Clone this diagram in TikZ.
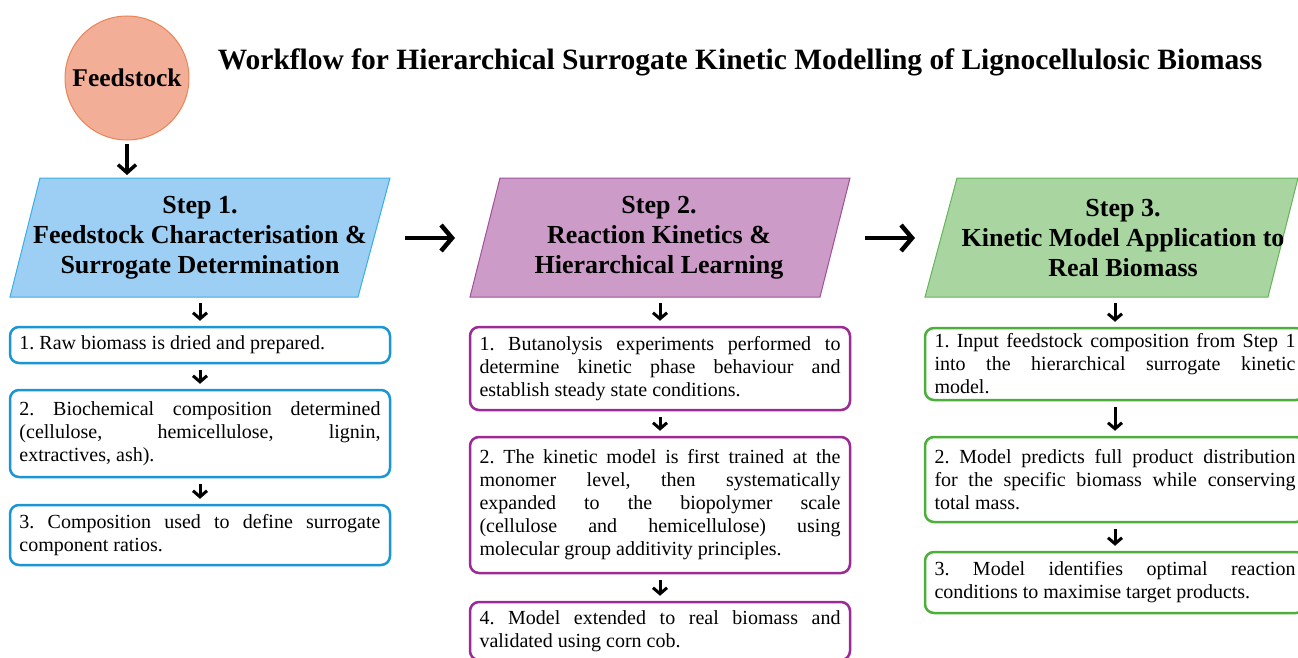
\documentclass[tikz,border=0pt]{standalone}
\usepackage{fontspec}
\setmainfont{Liberation Serif}
\usetikzlibrary{arrows.meta}
\definecolor{circfill}{HTML}{F3AE98}
\definecolor{circdraw}{HTML}{E98455}
\definecolor{bluefill}{HTML}{9DCEF3}
\definecolor{bluedraw}{HTML}{3AAEE6}
\definecolor{purpfill}{HTML}{CD9BC8}
\definecolor{purpdraw}{HTML}{A0509A}
\definecolor{greenfill}{HTML}{A8D5A0}
\definecolor{greendraw}{HTML}{64B45A}
\definecolor{bluebox}{HTML}{1A96D4}
\definecolor{purpbox}{HTML}{9C2A95}
\definecolor{greenbox}{HTML}{4CAF3A}
\newcommand\nohyph{\hyphenpenalty=10000\relax\exhyphenpenalty=10000\relax\frenchspacing\spaceskip=0.25em plus 1em minus 0.13em\relax\hbadness=10000\relax\hfuzz=20pt\relax}
\newcommand\lb{\linebreak}
\begin{document}
\begin{tikzpicture}[x=1pt,y=-1pt,
  textbox/.style={draw, rounded corners=9pt, line width=2.5pt, fill=white,
    text width=361pt, align=justify, inner xsep=9.5pt, inner ysep=2pt,
    font=\fontsize{20}{23}\selectfont\nohyph},
  headtext/.style={align=center, font=\bfseries\fontsize{26}{30}\selectfont},
  para/.style={line width=1pt},
  dnarrow/.style={line width=3pt, -{Straight Barb[length=6pt,width=14pt,line width=3pt]}, shorten <=6pt, shorten >=5pt},
  bigarrow/.style={line width=4.5pt, -{Straight Barb[length=11pt,width=26pt,line width=4.5pt]}}]
\useasboundingbox (0,0) rectangle (1298,658);

% title
\node[font=\bfseries\fontsize{29.5}{33}\selectfont] (title) at (740,62) {Workflow for Hierarchical Surrogate Kinetic Modelling of Lignocellulosic Biomass};

% feedstock
\node[circle, draw=circdraw, fill=circfill, line width=1pt, minimum size=124pt, inner sep=0pt,
  font=\bfseries\fontsize{25.5}{28}\selectfont] (feed) at (127,78) {Feedstock};

% parallelograms
\draw[para, draw=bluedraw, fill=bluefill] (40,178) -- (390,178) -- (358,297) -- (10,297) -- cycle;
\draw[para, draw=purpdraw, fill=purpfill] (500,178) -- (850,178) -- (820,297) -- (470,297) -- cycle;
\draw[para, draw=greendraw, fill=greenfill] (957,178) -- (1298,178) -- (1268,297) -- (925,297) -- cycle;

\coordinate (p1t) at (127,178);
\coordinate (p1r) at (374,238);
\coordinate (p2l) at (485,238);
\coordinate (p2r) at (835,238);
\coordinate (p3l) at (941,238);
\coordinate (p1b) at (200,297);
\coordinate (p2b) at (660,297);
\coordinate (p3b) at (1115,297);

\node[headtext] (s1) at (200,238) {Step 1.\\Feedstock Characterisation \&\\Surrogate Determination};
\node[headtext] (s2) at (659,238) {Step 2.\\Reaction Kinetics \&\\Hierarchical Learning};
\node[headtext] (s3) at (1123,238) {Step 3.\\Kinetic Model Application to\\Real Biomass};

% step 1 boxes
\node[textbox, draw=bluebox, minimum height=36pt] (b11) at (200,345) {1. Raw biomass is dried and prepared.};
\node[textbox, draw=bluebox, minimum height=87pt] (b12) at (200,433.5) {2. Biochemical composition determined\lb{} (cellulose, hemicellulose, lignin,\lb{} extractives, ash).};
\node[textbox, draw=bluebox, minimum height=60pt] (b13) at (200,535) {3. Composition used to define surrogate\lb{} component ratios.};

% step 2 boxes
\node[textbox, draw=purpbox, minimum height=83pt] (b21) at (660,368.5) {1. Butanolysis experiments performed to\lb{} determine kinetic phase behaviour and\lb{} establish steady state conditions.};
\node[textbox, draw=purpbox, minimum height=136pt] (b22) at (660,505) {2. The kinetic model is first trained at the\lb{} monomer level, then systematically\lb{} expanded to the biopolymer scale\lb{} (cellulose and hemicellulose) using\lb{} molecular group additivity principles.};
\node[textbox, draw=purpbox, minimum height=58pt] (b23) at (660,631) {4. Model extended to real biomass and\lb{} validated using corn cob.};

% step 3 boxes
\node[textbox, draw=greenbox, minimum height=72pt] (b31) at (1115,364) {1. Input feedstock composition from Step 1\lb{} into the hierarchical surrogate kinetic\lb{} model.};
\node[textbox, draw=greenbox, minimum height=85pt] (b32) at (1115,479.5) {2. Model predicts full product distribution\lb{} for the specific biomass while conserving\lb{} total mass.};
\node[textbox, draw=greenbox, minimum height=61pt] (b33) at (1115,582.5) {3. Model identifies optimal reaction\lb{} conditions to maximise target products.};

% arrows
\draw[line width=3.5pt, -{Straight Barb[length=8pt,width=18pt,line width=3.5pt]}, shorten <=4pt, shorten >=3pt] (feed.south) -- (p1t);
\draw[bigarrow, shorten <=31pt, shorten >=30pt] (p1r) -- (p2l);
\draw[bigarrow, shorten <=30pt, shorten >=26pt] (p2r) -- (p3l);

\draw[dnarrow] (p1b) -- (b11.north);
\draw[dnarrow] (b11.south) -- (b12.north);
\draw[dnarrow] (b12.south) -- (b13.north);
\draw[dnarrow] (p2b) -- (b21.north);
\draw[dnarrow] (b21.south) -- (b22.north);
\draw[dnarrow] (b22.south) -- (b23.north);
\draw[dnarrow] (p3b) -- (b31.north);
\draw[dnarrow] (b31.south) -- (b32.north);
\draw[dnarrow] (b32.south) -- (b33.north);
\end{tikzpicture}
\end{document}
